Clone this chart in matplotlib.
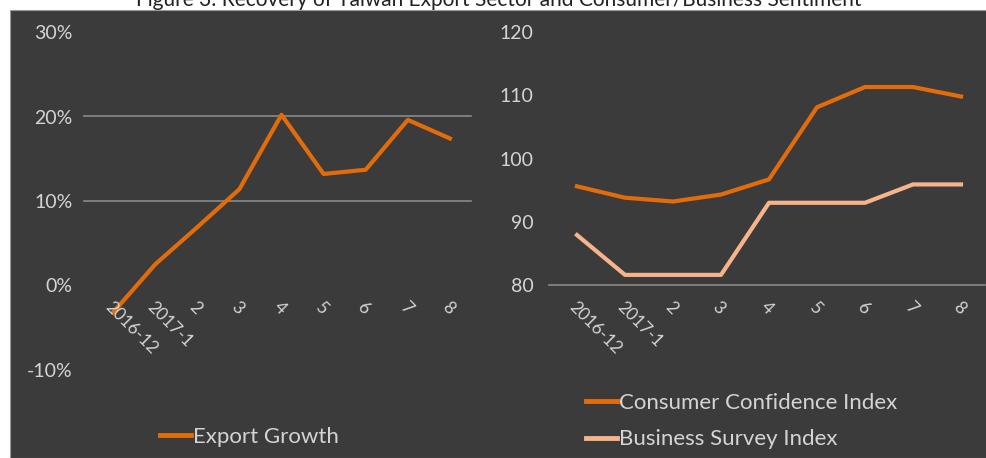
import numpy as np
import matplotlib.pyplot as plt
from matplotlib.patches import Rectangle
from matplotlib.lines import Line2D

months = ['2016-12', '2017-1', '2', '3', '4', '5', '6', '7', '8']
export_growth = [-3.2, 2.5, 6.9, 11.4, 20.2, 13.2, 13.7, 19.6, 17.4]
consumer_conf = [95.6, 93.8, 93.2, 94.3, 96.7, 108.1, 111.3, 111.3, 109.8]
business_survey = [87.9, 81.6, 81.6, 81.6, 93.0, 93.0, 93.0, 95.9, 95.9]

bg = '#3b3b3b'
txt = '#d4d4d4'
grid_c = '#8a8a8a'
orange = '#e36c0a'
peach = '#f7b48a'
font = 'Lato'

fig = plt.figure(figsize=(9.87, 4.58), dpi=100)
fig.patch.set_facecolor('white')
fig.patches.append(Rectangle((10/987, 0), 1, 1 - 10/458, transform=fig.transFigure,
                             facecolor=bg, edgecolor='#9a9a9a', lw=0.8, zorder=-10))
fig.text(0.505, 1.0, 'Figure 3: Recovery of Taiwan Export Sector and Consumer/Business Sentiment',
         ha='center', va='center', fontsize=15, color='#222222', family=font)

x = np.arange(len(months))

# left: export growth
ax1 = fig.add_axes([92/987, 1 - 370/458, 379/987, 338/458])
ax1.set_facecolor('none')
ax1.plot(x, export_growth, color=orange, lw=3, zorder=3)
ax1.set_xlim(-0.5, len(months) - 0.5)
ax1.set_ylim(-10, 30)
for v in [10, 20]:
    ax1.axhline(v, xmin=-0.02, color=grid_c, lw=1.2, zorder=1, clip_on=False)
ax1.set_yticks([-10, 0, 10, 20, 30])
ax1.set_yticklabels(['-10%', '0%', '10%', '20%', '30%'])
ax1.set_xticks([])
for i, m in enumerate(months):
    ax1.text(i, -1.6, m, rotation=-45, rotation_mode='anchor', ha='left', va='top',
             fontsize=12.5, color=txt, family=font)

# right: sentiment indices
ax2 = fig.add_axes([553/987, 1 - 285/458, 432/987, 253/458])
ax2.set_facecolor('none')
ax2.plot(x, consumer_conf, color=orange, lw=3, zorder=3)
ax2.plot(x, business_survey, color=peach, lw=3, zorder=3)
ax2.set_xlim(-0.5, len(months) - 0.5)
ax2.set_ylim(80, 120)
ax2.axhline(80, xmin=-0.01, color=grid_c, lw=1.2, zorder=1, clip_on=False)
ax2.set_yticks([80, 90, 100, 110, 120])
ax2.set_xticks([])
for i, m in enumerate(months):
    ax2.text(i, 77.8, m, rotation=-45, rotation_mode='anchor', ha='left', va='top',
             fontsize=12.5, color=txt, family=font)

for ax in (ax1, ax2):
    for s in ax.spines.values():
        s.set_visible(False)
    ax.tick_params(axis='y', length=0, pad=14, labelsize=14, labelcolor=txt)
    for lab in ax.get_yticklabels():
        lab.set_family(font)

h1 = [Line2D([], [], color=orange, lw=3.5)]
fig.legend(h1, ['Export Growth'], loc='center left', bbox_to_anchor=(140/987, 1 - 437/458),
           frameon=False, handlelength=1.4, handletextpad=0.1,
           labelcolor=txt, prop={'family': font, 'size': 16})

h2 = [Line2D([], [], color=orange, lw=3.5), Line2D([], [], color=peach, lw=3.5)]
fig.legend(h2, ['Consumer Confidence Index', 'Business Survey Index'], loc='center left',
           bbox_to_anchor=(566/987, 1 - 421/458), frameon=False, handlelength=1.4,
           handletextpad=0.1, labelspacing=0.75, labelcolor=txt,
           prop={'family': font, 'size': 16})

fig.savefig('out.png', dpi=100)
